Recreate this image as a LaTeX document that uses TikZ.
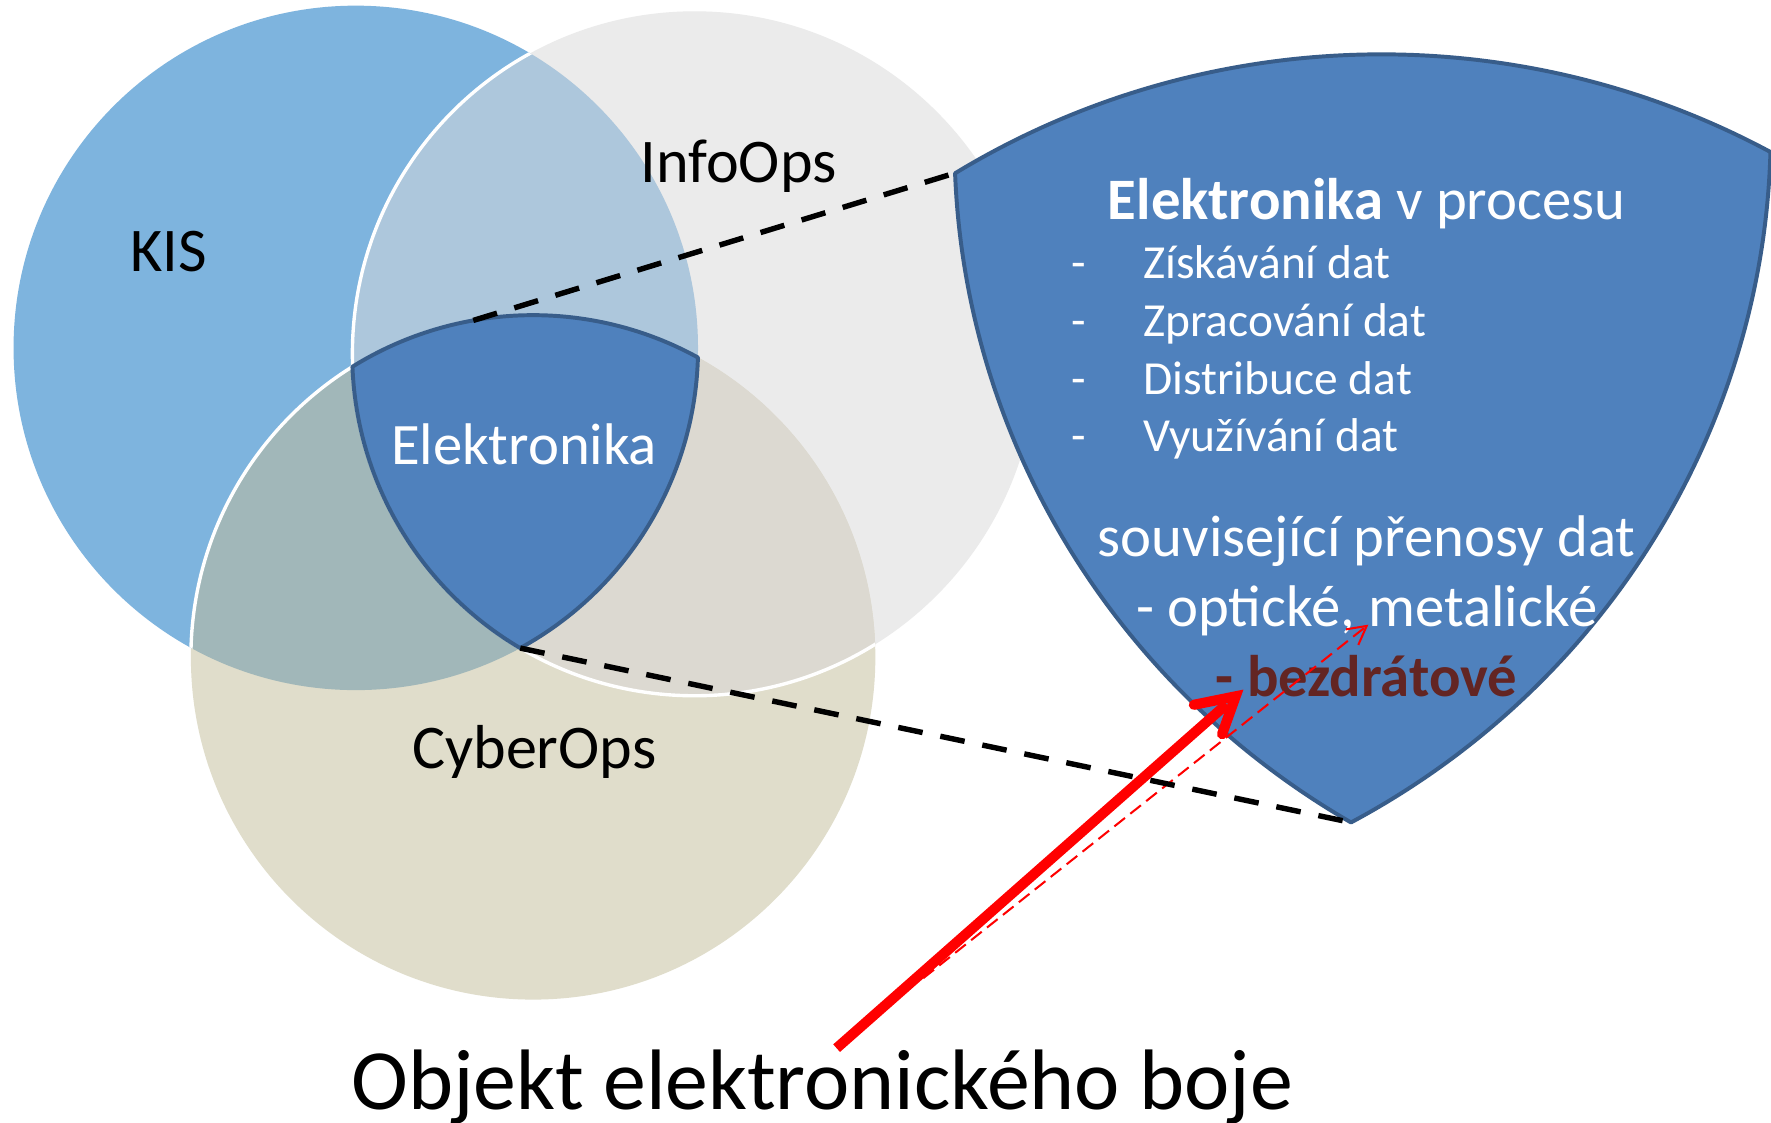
\documentclass[tikz,border=0pt]{standalone}
\usepackage{fontspec}
\setmainfont{Carlito}
\definecolor{kisc}{HTML}{7EB4DE}
\definecolor{infoc}{HTML}{EBEBEB}
\definecolor{cybc}{HTML}{E0DDCB}
\definecolor{kic}{HTML}{ADC7DC}
\definecolor{kcc}{HTML}{A1B7B9}
\definecolor{icc}{HTML}{DCD9D1}
\definecolor{shfill}{HTML}{4F81BD}
\definecolor{shline}{HTML}{385D8A}
\definecolor{darkred}{HTML}{632523}
\begin{document}
\begin{tikzpicture}[x=1pt,y=-1pt,
  whiteedge/.style={draw=white,line width=3pt},
  shieldsty/.style={fill=shfill,draw=shline,line width=3.5pt,line join=round},
  circname/.style={font=\fontsize{55}{66}\selectfont,inner sep=0pt,anchor=base},
  shtext/.style={font=\fontsize{52}{62}\selectfont,text=white,inner sep=0pt,anchor=base},
  itemtext/.style={font=\fontsize{42}{50}\selectfont,text=white,inner sep=0pt,anchor=base west},
  itemdash/.style={font=\fontsize{42}{50}\selectfont,text=white,inner sep=0pt,anchor=base},
  zoomline/.style={draw=black,line width=4.8pt,dash pattern=on 22pt off 16pt},
  bigarrow/.style={draw=red,line width=9pt},
  thinarrow/.style={draw=red,line width=1.8pt,dash pattern=on 12pt off 6pt},
]
\useasboundingbox (0,0) rectangle (1568,994);
\fill[white] (0,0) rectangle (1568,994);
\clip (0,0) rectangle (1568,994);
\coordinate (K) at (315,308);
\coordinate (I) at (615,313);
\coordinate (C) at (472,582);
% circles
\fill[kisc] (K) circle (303);
\fill[infoc] (I) circle (303);
\fill[cybc] (C) circle (303);
\begin{scope}
  \clip (K) circle (303);
  \fill[kic] (I) circle (303);
\end{scope}
\begin{scope}
  \clip (K) circle (303);
  \fill[kcc] (C) circle (303);
\end{scope}
\begin{scope}
  \clip (I) circle (303);
  \fill[icc] (C) circle (303);
\end{scope}
% white edges
\begin{scope}
  \clip (K) circle (303);
  \draw[whiteedge] (I) circle (303);
\end{scope}
\begin{scope}
  \clip (C) circle (303);
  \draw[whiteedge] (I) circle (303);
\end{scope}
\begin{scope}
  \clip (K) circle (303);
  \clip (0,0) rectangle (312.3,994);
  \draw[whiteedge] (C) circle (303);
\end{scope}
% small shield
\draw[shieldsty] (312.3,324.5) arc[start angle=-121.8,end angle=-61.2,radius=303]
  arc[start angle=1.6,end angle=61.3,radius=303]
  arc[start angle=120.6,end angle=177.8,radius=303] -- cycle;
\coordinate (sTop) at (419,283.7);
\coordinate (sT) at (460.6,573.8);
% big shield
\begin{scope}[shift={(109.2,-595.6)},xscale=2.36,yscale=2.307]
  \draw[shieldsty] (312.3,324.5) arc[start angle=-121.8,end angle=-61.2,radius=303]
    arc[start angle=1.6,end angle=61.3,radius=303]
    arc[start angle=120.6,end angle=177.8,radius=303] -- cycle;
  \coordinate (bL) at (312.3,324.5);
  \coordinate (bT) at (460.6,573.8);
\end{scope}
% labels
\node[circname] (kis) at (149,240.5) {KIS};
\node[circname] (info) at (654,162) {InfoOps};
\node[circname] (cyber) at (473,680) {CyberOps};
\node[shtext] (elek) at (464,411) {Elektronika};
\node[shtext] (ttl) at (1210,194) {\textbf{Elektronika} v procesu};
\node[itemdash] (d1) at (955,247) {-};
\node[itemtext] (i1) at (1012,247) {Získávání dat};
\node[itemdash] (d2) at (955,298) {-};
\node[itemtext] (i2) at (1012,298) {Zpracování dat};
\node[itemdash] (d3) at (955,349) {-};
\node[itemtext] (i3) at (1012,349) {Distribuce dat};
\node[itemdash] (d4) at (955,400) {-};
\node[itemtext] (i4) at (1012,400) {Využívání dat};
\node[shtext] (souv) at (1210,493) {související přenosy dat};
\node[shtext] (opt) at (1210,555) {- optické, metalické};
\node[shtext,text=darkred,font=\bfseries\fontsize{52}{62}\selectfont] (bez) at (1210,617) {- bezdrátové};
\node[inner sep=0pt,anchor=base,font=\fontsize{76}{90}\selectfont] (obj) at (728,982) {Objekt elektronického boje};
% arrows
\coordinate (aS) at (740.7,928);
\coordinate (aE) at (1086,623.5);
\coordinate (aT) at (1094,616.5);
\coordinate (aB1) at (1057,624);
\coordinate (aB2) at (1082,650);
\draw[bigarrow] (aS) -- (aE);
\draw[bigarrow,line cap=round,line join=miter] (aB1) -- (aT) -- (aB2);
\coordinate (tS) at (817.5,866);
\coordinate (tT) at (1210,554.2);
\coordinate (tB1) at (1191.7,557.2);
\coordinate (tB2) at (1202.6,571);
\draw[thinarrow] (tS) -- (tT);
\draw[red,line width=1.8pt] (tB1) -- (tT) -- (tB2);
% zoom lines
\draw[zoomline] (sTop) -- (bL);
\draw[zoomline] (sT) -- (bT);
\end{tikzpicture}
\end{document}
